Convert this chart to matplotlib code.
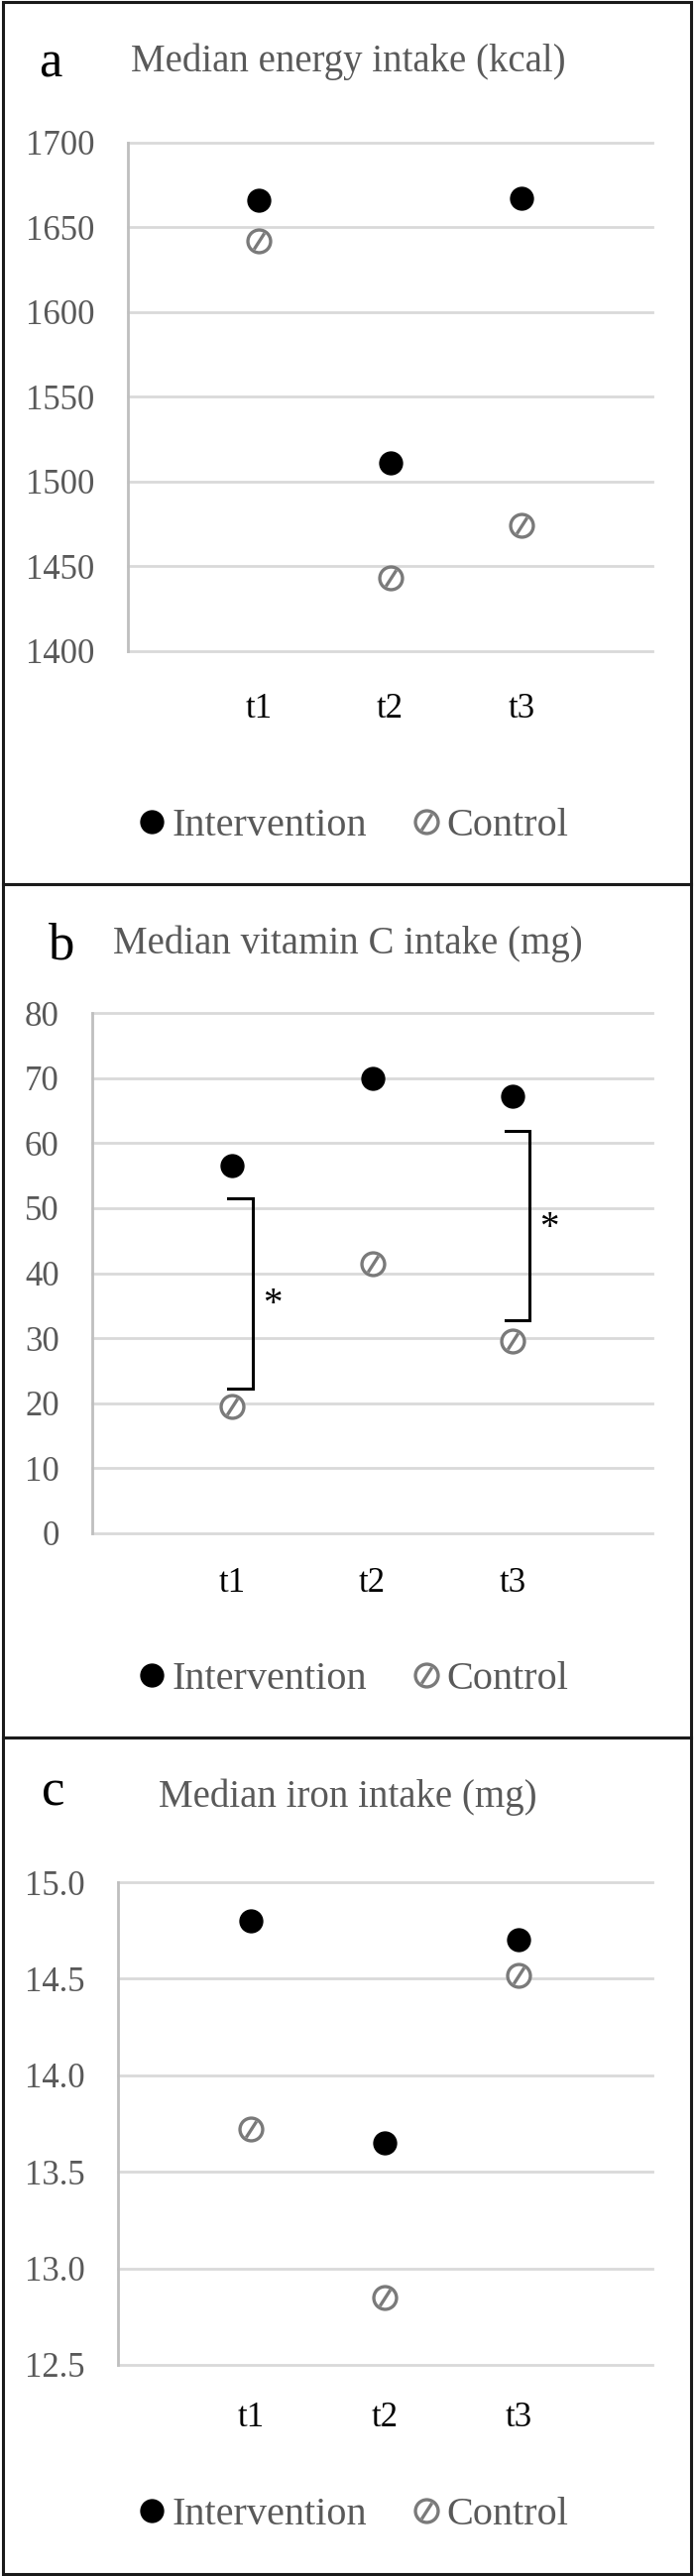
import numpy as np
import matplotlib
matplotlib.use('Agg')
import matplotlib.pyplot as plt
from matplotlib.path import Path
from matplotlib.lines import Line2D
from matplotlib.patches import Rectangle

plt.rcParams['font.family'] = ['Liberation Serif', 'DejaVu Serif']

W, H = 702, 2599          # output size in pixels
GREY = '#595959'          # text grey
GRID = '#d9d9d9'
AXIS = '#bfbfbf'
CTL = '#7a7a7a'

times = ['t1', 't2', 't3']
groups = ['Intervention', 'Control']

energy_int = [1666, 1511, 1667]
energy_ctl = [1642, 1443, 1474]
vitc_int = [56.6, 70.0, 67.2]
vitc_ctl = [19.5, 41.4, 29.5]
iron_int = [14.80, 13.65, 14.70]
iron_ctl = [13.72, 12.85, 14.52]

energy_ticks = [1400, 1450, 1500, 1550, 1600, 1650, 1700]
vitc_ticks = [0, 10, 20, 30, 40, 50, 60, 70, 80]
iron_ticks = [12.5, 13.0, 13.5, 14.0, 14.5, 15.0]

# significance brackets for vitamin C: (x_left, x_right, y_top, y_bottom)
vitc_brackets = [(0.97, 1.15, 51.5, 22.3), (2.95, 3.12, 61.9, 32.75)]
vitc_stars = [(1.284, 36.6), (3.261, 48.3)]

# control marker: open circle with a slash through it
ctl_marker = Path.make_compound_path(
    Path.unit_circle(),
    Path([(-0.45, -0.7), (0.45, 0.7)], [Path.MOVETO, Path.LINETO]))

MS = 16.5


def int_style():
    return dict(ls='none', marker='o', ms=MS, mfc='black', mec='black')


def ctl_style():
    return dict(ls='none', marker=ctl_marker, ms=MS, mfc='white',
                mec=CTL, mew=2.4)


def draw_panel(fig, box, frame, yticks, fmt, yint, yctl, letter, letter_xy,
               title, title_y, legend_y, xpad):
    l, t, r, b = box
    ax = fig.add_axes([l / W, 1 - b / H, (r - l) / W, (b - t) / H])
    x = np.arange(1, len(times) + 1)
    for yv in yticks:
        ax.axhline(yv, color=GRID, lw=2, zorder=0.5, clip_on=False)
    ax.plot(x, yint, clip_on=False, zorder=3, **int_style())
    ax.plot(x, yctl, clip_on=False, zorder=3, **ctl_style())
    ax.set_xlim(0, 4)
    ax.set_ylim(yticks[0], yticks[-1])
    ax.set_yticks(yticks)
    ax.set_yticklabels([fmt.format(v) for v in yticks])
    ax.set_xticks(x)
    ax.set_xticklabels(times)
    ax.tick_params(axis='y', length=0, pad=24, labelsize=25, labelcolor=GREY)
    ax.tick_params(axis='x', length=0, pad=xpad, labelsize=25,
                   labelcolor='black')
    for s in ['top', 'right', 'bottom']:
        ax.spines[s].set_visible(False)
    ax.spines['left'].set_color(AXIS)
    ax.spines['left'].set_linewidth(2)
    ax.patch.set_alpha(0)

    fx0, fy0, fx1, fy1 = frame
    fig.add_artist(Rectangle((fx0 / W, 1 - fy1 / H), (fx1 - fx0) / W,
                             (fy1 - fy0) / H, transform=fig.transFigure,
                             fill=False, lw=2.2, ec='#1a1a1a'))
    fig.text(letter_xy[0] / W, 1 - letter_xy[1] / H, letter, fontsize=38,
             color='black', ha='left', va='baseline')
    fig.text(0.5, 1 - title_y / H, title, fontsize=28, color=GREY,
             ha='center', va='baseline')
    handles = [Line2D([], [], **int_style()), Line2D([], [], **ctl_style())]
    ax.legend(handles, groups, loc='center',
              bbox_to_anchor=(357 / W, 1 - legend_y / H),
              bbox_transform=fig.transFigure, ncol=2, frameon=False,
              fontsize=29, labelcolor=GREY, handlelength=0.6,
              handletextpad=0.2, columnspacing=1.2, borderpad=0,
              borderaxespad=0)
    return ax


fig = plt.figure(figsize=(W / 100, H / 100), dpi=100)

draw_panel(fig, (129, 144, 658, 657), (3, 1.5, 697, 892), energy_ticks,
           '{:d}', energy_int, energy_ctl, 'a', (39, 78),
           'Median energy intake (kcal)', 72, 833, 30)

ax_b = draw_panel(fig, (93, 1022.3, 658, 1546.7), (3, 892, 697, 1753),
                  vitc_ticks, '{:d}', vitc_int, vitc_ctl, 'b', (48, 967),
                  'Median vitamin C intake (mg)', 962, 1694, 25)
for xl, xr, yt, yb in vitc_brackets:
    ax_b.plot([xl, xr, xr, xl], [yt, yt, yb, yb], color='black', lw=2.2,
              solid_joinstyle='miter', zorder=2)
for xs, ys in vitc_stars:
    ax_b.text(xs, ys - 2.9, '*', fontsize=28, ha='center', va='baseline',
              color='black')

draw_panel(fig, (118.6, 1899, 658, 2386), (3, 1753, 697, 2597), iron_ticks,
           '{:.1f}', iron_int, iron_ctl, 'c', (42.5, 1822),
           'Median iron intake (mg)', 1823, 2537.5, 27)

fig.savefig('out.png', dpi=100)
